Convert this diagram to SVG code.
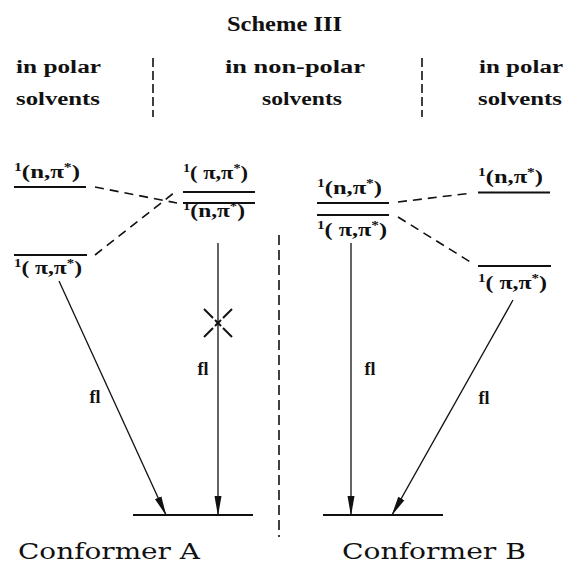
<svg xmlns="http://www.w3.org/2000/svg" width="567" height="568" viewBox="0 0 567 568">
<defs>
<style>
.t{font-family:"Liberation Serif","DejaVu Serif",serif;fill:#111}
.title{font-size:22px;font-weight:bold}
.hd{font-size:18px;font-weight:bold}
.lv{font-size:19px;font-weight:bold}
.sup{font-size:12px}
.fl{font-size:18px;font-weight:bold}
.cf{font-family:"DejaVu Serif","Liberation Serif",serif;font-size:23px;fill:#111}
.lvl{stroke:#111;stroke-width:2;fill:none}
.dash{stroke:#111;stroke-width:1.6;stroke-dasharray:9 6;fill:none}
.sep{stroke:#111;stroke-width:1.6;stroke-dasharray:9 4;fill:none}
.arr{stroke:#111;stroke-width:1.3;fill:none;marker-end:url(#ah)}
.x{stroke:#111;stroke-width:2;fill:none}
</style>
<marker id="ah" viewBox="0 0 20 8" refX="19" refY="4" markerWidth="20" markerHeight="8" markerUnits="userSpaceOnUse" orient="auto">
<path d="M0,0.5 L20,4 L0,7.5 z" fill="#111"/>
</marker>
</defs>
<rect width="567" height="568" fill="#fff"/>

<g id="headers">
<text class="t title" x="227" y="31" textLength="115" lengthAdjust="spacingAndGlyphs">Scheme III</text>
<text class="t hd" x="16" y="73" textLength="85" lengthAdjust="spacingAndGlyphs">in polar</text>
<text class="t hd" x="16" y="105" textLength="84" lengthAdjust="spacingAndGlyphs">solvents</text>
<text class="t hd" x="225" y="73" textLength="140" lengthAdjust="spacingAndGlyphs">in non-polar</text>
<text class="t hd" x="262" y="105" textLength="80" lengthAdjust="spacingAndGlyphs">solvents</text>
<text class="t hd" x="479" y="73" textLength="84" lengthAdjust="spacingAndGlyphs">in polar</text>
<text class="t hd" x="478" y="105" textLength="84" lengthAdjust="spacingAndGlyphs">solvents</text>
</g>

<g id="separators">
<line class="sep" x1="153" y1="58" x2="153" y2="117"/>
<line class="sep" x1="422" y1="58" x2="422" y2="117"/>
<line class="dash" x1="279" y1="235" x2="279" y2="537" style="stroke-dasharray:10 5"/>
</g>

<g id="levelA_np_polar">
<line class="lvl" x1="14" y1="187" x2="86" y2="187"/>
<text class="t lv" x="14" y="178" textLength="66" lengthAdjust="spacingAndGlyphs"><tspan class="sup" dy="-7">1</tspan><tspan dy="7">(n,π</tspan><tspan class="sup" dy="-7">*</tspan><tspan dy="7">)</tspan></text>
</g>
<g id="levelA_pp_polar">
<line class="lvl" x1="14" y1="255" x2="87" y2="255"/>
<text class="t lv" x="14" y="274" textLength="68" lengthAdjust="spacingAndGlyphs"><tspan class="sup" dy="-7">1</tspan><tspan dy="7">( π,π</tspan><tspan class="sup" dy="-7">*</tspan><tspan dy="7">)</tspan></text>
</g>
<g id="levelA_pp_nonpolar">
<line class="lvl" x1="183" y1="192" x2="255" y2="192"/>
<text class="t lv" x="183" y="179" textLength="65" lengthAdjust="spacingAndGlyphs"><tspan class="sup" dy="-7">1</tspan><tspan dy="7">( π,π</tspan><tspan class="sup" dy="-7">*</tspan><tspan dy="7">)</tspan></text>
</g>
<g id="levelA_np_nonpolar">
<line class="lvl" x1="183" y1="203" x2="255" y2="203"/>
<text class="t lv" x="183" y="217" textLength="62" lengthAdjust="spacingAndGlyphs"><tspan class="sup" dy="-7">1</tspan><tspan dy="7">(n,π</tspan><tspan class="sup" dy="-7">*</tspan><tspan dy="7">)</tspan></text>
</g>
<g id="levelB_np_nonpolar">
<line class="lvl" x1="317" y1="203" x2="389" y2="203"/>
<text class="t lv" x="317" y="194" textLength="65" lengthAdjust="spacingAndGlyphs"><tspan class="sup" dy="-7">1</tspan><tspan dy="7">(n,π</tspan><tspan class="sup" dy="-7">*</tspan><tspan dy="7">)</tspan></text>
</g>
<g id="levelB_pp_nonpolar">
<line class="lvl" x1="317" y1="215" x2="389" y2="215"/>
<text class="t lv" x="317" y="236" textLength="70" lengthAdjust="spacingAndGlyphs"><tspan class="sup" dy="-7">1</tspan><tspan dy="7">( π,π</tspan><tspan class="sup" dy="-7">*</tspan><tspan dy="7">)</tspan></text>
</g>
<g id="levelB_np_polar">
<line class="lvl" x1="478" y1="192.5" x2="550" y2="192.5"/>
<text class="t lv" x="478" y="183" textLength="65" lengthAdjust="spacingAndGlyphs"><tspan class="sup" dy="-7">1</tspan><tspan dy="7">(n,π</tspan><tspan class="sup" dy="-7">*</tspan><tspan dy="7">)</tspan></text>
</g>
<g id="levelB_pp_polar">
<line class="lvl" x1="478" y1="266" x2="551" y2="266"/>
<text class="t lv" x="478" y="289" textLength="69" lengthAdjust="spacingAndGlyphs"><tspan class="sup" dy="-7">1</tspan><tspan dy="7">( π,π</tspan><tspan class="sup" dy="-7">*</tspan><tspan dy="7">)</tspan></text>
</g>
<g id="groundA">
<line class="lvl" x1="133" y1="515" x2="253" y2="515"/>
</g>
<g id="groundB">
<line class="lvl" x1="323" y1="515" x2="443" y2="515"/>
</g>

<g id="connectors">
<line class="dash" x1="95" y1="187" x2="177" y2="203"/>
<line class="dash" x1="95" y1="255" x2="175" y2="192"/>
<line class="dash" x1="398" y1="202" x2="472" y2="193"/>
<line class="dash" x1="398" y1="217" x2="472" y2="263"/>
<line class="arr" x1="59" y1="281" x2="166" y2="515"/>
<line class="arr" x1="218" y1="243" x2="218" y2="515"/>
<line class="arr" x1="351" y1="243" x2="351" y2="515"/>
<line class="arr" x1="513" y1="300" x2="392" y2="515"/>
<g id="blocked">
<line class="x" x1="204" y1="309" x2="213" y2="318"/>
<line class="x" x1="223" y1="328" x2="232" y2="337"/>
<line class="x" x1="232" y1="309" x2="223" y2="318"/>
<line class="x" x1="213" y1="328" x2="204" y2="337"/>
<line class="x" x1="215" y1="320" x2="221" y2="326"/>
<line class="x" x1="221" y1="320" x2="215" y2="326"/>
</g>
<text class="t fl" x="95" y="403" text-anchor="middle">fl</text>
<text class="t fl" x="203" y="375" text-anchor="middle">fl</text>
<text class="t fl" x="370" y="375" text-anchor="middle">fl</text>
<text class="t fl" x="484" y="404" text-anchor="middle">fl</text>
</g>

<g id="captions">
<text class="cf" x="18" y="559" textLength="182" lengthAdjust="spacingAndGlyphs">Conformer A</text>
<text class="cf" x="342" y="559" textLength="184" lengthAdjust="spacingAndGlyphs">Conformer B</text>
</g>
</svg>
